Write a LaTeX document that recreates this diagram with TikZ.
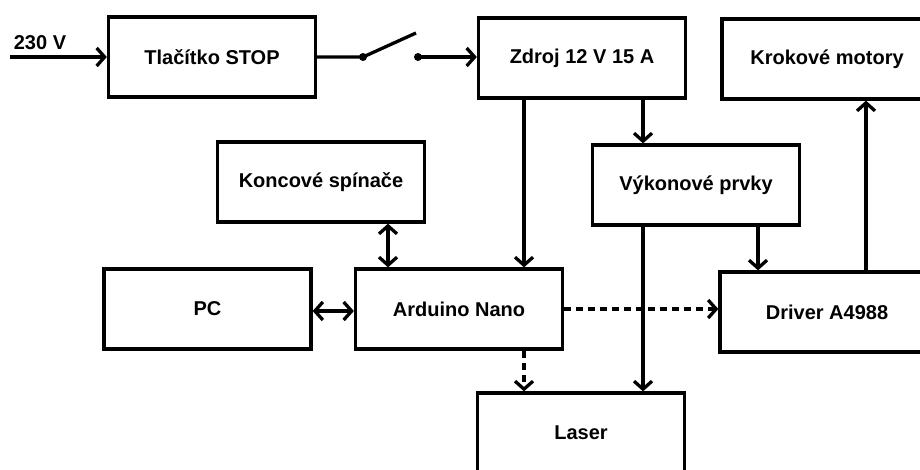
\documentclass[tikz,border=0pt]{standalone}
\usepackage{fontspec}
\setmainfont{Liberation Sans}
\usetikzlibrary{arrows.meta}
\tikzset{
  box/.style={draw, line width=3.3pt, rectangle, minimum width=207pt, minimum height=80pt, inner sep=0pt, font=\fontsize{20}{23}\selectfont\bfseries},
  conn/.style={line width=3.3pt},
  arr/.style={conn, -{Straight Barb[length=8pt,width=18pt,line width=3.3pt]}},
  darr/.style={conn, {Straight Barb[length=8pt,width=18pt,line width=3.3pt]}-{Straight Barb[length=8pt,width=18pt,line width=3.3pt]}},
  dotarr/.style={arr, dash pattern=on 7pt off 5pt},
  lbl/.style={font=\fontsize{20}{23}\selectfont\bfseries, inner sep=0pt},
  dot/.style={circle, fill, inner sep=0pt, minimum size=8pt}
}
\begin{document}
\begin{tikzpicture}[x=1pt,y=-1pt]
\clip (0,0) rectangle (920,469);
\fill[white] (0,0) rectangle (920,469);
% boxes
\node[box] (stop) at (212,57) {Tlačítko STOP};
\node[box] (zdroj) at (582,58) {Zdroj 12 V 15 A};
\node[box, minimum width=210pt] (krok) at (827,59) {Krokové motory};
\node[box] (vyk) at (696,185) {Výkonové prvky};
\node[box] (konc) at (321,182) {Koncové spínače};
\node[box] (pc) at (207.5,309) {PC};
\node[box] (ard) at (459,309) {Arduino Nano};
\node[box, minimum width=214pt] (drv) at (827,312) {Driver A4988};
\node[box] (laser) at (581,433) {Laser};
% helper coordinates
\coordinate (inp) at (10,57);
\node[lbl] (v230) at (40,43) {230 V};
\node[dot] (s1) at (363,57) {};
\coordinate (s2) at (416,33);
\node[dot] (s3) at (418,57) {};
\coordinate (xa) at (524,0);
\coordinate (xb) at (643,0);
\coordinate (xc) at (758,0);
\coordinate (xd) at (866,0);
\coordinate (xe) at (388,0);
\coordinate (ya) at (0,311);
\coordinate (yb) at (0,309);
% connectors
\draw[arr] (inp) -- (stop.west);
\draw[conn] (stop.east) -- (s1.center) -- (s2);
\draw[arr] (s3.center) -- (zdroj.west |- s3);
\draw[arr] (zdroj.south -| xb) -- (vyk.north -| xb);
\draw[arr] (zdroj.south -| xa) -- (ard.north -| xa);
\draw[arr] (vyk.south -| xb) -- (laser.north -| xb);
\draw[arr] (vyk.south -| xc) -- (drv.north -| xc);
\draw[arr] (drv.north -| xd) -- (krok.south -| xd);
\draw[darr] (konc.south -| xe) -- (ard.north -| xe);
\draw[darr] (pc.east |- ya) -- (ard.west |- ya);
\draw[dotarr] (ard.east |- yb) -- (drv.west |- yb);
\draw[dotarr] (ard.south -| xa) -- (laser.north -| xa);
\end{tikzpicture}
\end{document}
